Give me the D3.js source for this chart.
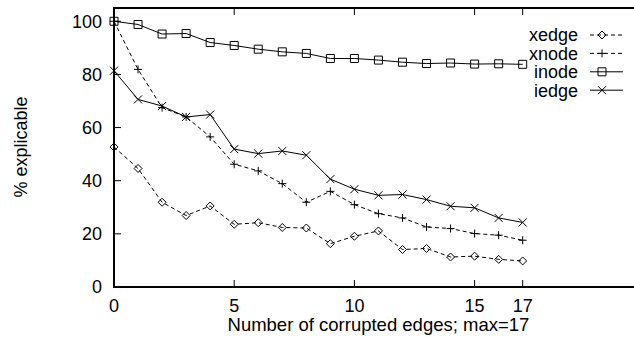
<!DOCTYPE html>
<html>
<head>
<meta charset="utf-8">
<script src="https://cdn.jsdelivr.net/npm/d3@7"></script>
<style>
  body { margin: 0; background: #fff; }
  text { font-family: 'Liberation Sans', Arial, sans-serif; fill: #000; }
</style>
</head>
<body>
<svg id="chart"></svg>
<script>
const svgWidth = 634;
const svgHeight = 337;

// corrupted edges 0..17
const edges = d3.range(0, 18);
const xTicks = [0, 5, 10, 15, 17];
const yTicks = [0, 20, 40, 60, 80, 100];

const xedge = [52.7, 44.6, 31.9, 26.9, 30.5, 23.6, 24.2, 22.4, 22.2, 16.3, 19.1, 21.1, 14.1, 14.5, 11.3, 11.6, 10.4, 9.8];
const xnode = [100, 81.9, 67.5, 64.0, 56.5, 46.2, 43.7, 38.9, 31.9, 36.0, 31.0, 27.6, 26.0, 22.6, 22.0, 20.1, 19.5, 17.6];
const inode = [100, 98.8, 95.2, 95.4, 92.0, 90.9, 89.5, 88.5, 87.9, 86.0, 86.0, 85.4, 84.6, 84.1, 84.3, 83.9, 84.0, 83.8];
const iedge = [81.4, 70.6, 68.1, 64.0, 64.9, 51.9, 50.2, 51.2, 49.6, 40.6, 36.8, 34.5, 34.8, 32.9, 30.4, 29.8, 26.0, 24.3];

const seriesNames = ['xedge', 'xnode', 'inode', 'iedge'];
const seriesValues = [xedge, xnode, inode, iedge];
const seriesDash = [true, true, false, false];
const seriesMarker = ['diamond', 'plus', 'square', 'cross'];

const svg = d3.select('#chart')
  .attr('width', svgWidth)
  .attr('height', svgHeight);

const plotLeft = 114;
const plotTop = 8;
const plotBottom = 287;

const x = d3.scaleLinear().domain([0, 22]).range([plotLeft, plotLeft + 22 * 24.04]);
const y = d3.scaleLinear().domain([0, 105]).range([plotBottom, plotTop]);

const g = svg.append('g');

// border (left, top, bottom; right side falls off the picture)
g.append('path')
  .attr('d', `M${x(22)},${y(105)}H${x(0)}V${y(0)}H${x(22)}`)
  .attr('fill', 'none')
  .attr('stroke', '#000')
  .attr('stroke-width', 2);

// ticks
const tickLen = 7;
g.append('g').selectAll('path')
  .data(xTicks.filter(d => d > 0))
  .enter()
  .append('path')
  .attr('d', d => `M${x(d)},${y(0)}v${-tickLen}M${x(d)},${y(105)}v${tickLen}`)
  .attr('stroke', '#000')
  .attr('stroke-width', 1);

g.append('g').selectAll('path')
  .data(yTicks.filter(d => d > 0))
  .enter()
  .append('path')
  .attr('d', d => `M${x(0)},${y(d)}h${tickLen}`)
  .attr('stroke', '#000')
  .attr('stroke-width', 1);

// tick labels
g.append('g')
  .attr('font-size', 18)
  .attr('text-anchor', 'middle')
  .selectAll('text')
  .data(xTicks)
  .enter()
  .append('text')
  .attr('x', d => x(d))
  .attr('y', 312)
  .text(d => d);

g.append('g')
  .attr('font-size', 18)
  .attr('text-anchor', 'end')
  .selectAll('text')
  .data(yTicks)
  .enter()
  .append('text')
  .attr('x', 102)
  .attr('y', d => y(d))
  .attr('dy', '0.36em')
  .text(d => d);

// axis titles
svg.append('text')
  .attr('font-size', 18.5)
  .attr('text-anchor', 'middle')
  .attr('x', (x(0) + x(22)) / 2)
  .attr('y', 331)
  .text('Number of corrupted edges; max=17');

svg.append('text')
  .attr('font-size', 18)
  .attr('text-anchor', 'middle')
  .attr('transform', 'translate(27,147) rotate(-90)')
  .text('% explicable');

function marker(sel, type) {
  const s = 4;
  let d;
  if (type === 'square') d = `M${-s},${-s}h${2 * s}v${2 * s}h${-2 * s}Z`;
  else if (type === 'diamond') d = `M0,${-s}L${s},0L0,${s}L${-s},0Z`;
  else if (type === 'plus') d = `M${-s},0h${2 * s}M0,${-s}v${2 * s}`;
  else d = `M${-s},${-s}L${s},${s}M${-s},${s}L${s},${-s}`;
  sel.append('path')
    .attr('d', d)
    .attr('fill', 'none')
    .attr('stroke', '#000')
    .attr('stroke-width', 1);
}

const line = d3.line()
  .x((d, i) => x(edges[i]))
  .y(d => y(d));

seriesValues.forEach((vals, k) => {
  const sg = g.append('g');
  sg.append('path')
    .datum(vals)
    .attr('d', line)
    .attr('fill', 'none')
    .attr('stroke', '#000')
    .attr('stroke-width', 1)
    .attr('stroke-dasharray', seriesDash[k] ? '4,3' : null);

  sg.selectAll('g')
    .data(vals)
    .enter()
    .append('g')
    .attr('transform', (d, i) => `translate(${x(edges[i])},${y(d)})`)
    .each(function () { marker(d3.select(this), seriesMarker[k]); });
});

// legend
const legend = svg.append('g')
  .attr('font-size', 18)
  .selectAll('g')
  .data(seriesNames)
  .enter()
  .append('g')
  .attr('transform', (d, i) => `translate(0,${35 + 18.4 * i})`);

legend.append('text')
  .attr('x', 578)
  .attr('dy', '0.36em')
  .attr('text-anchor', 'end')
  .text(d => d);

legend.append('path')
  .attr('d', 'M590,0H623')
  .attr('stroke', '#000')
  .attr('stroke-width', 1)
  .attr('stroke-dasharray', (d, i) => (seriesDash[i] ? '4,3' : null));

legend.append('g')
  .attr('transform', 'translate(602,0)')
  .each(function (d, i) { marker(d3.select(this), seriesMarker[i]); });
</script>
</body>
</html>
